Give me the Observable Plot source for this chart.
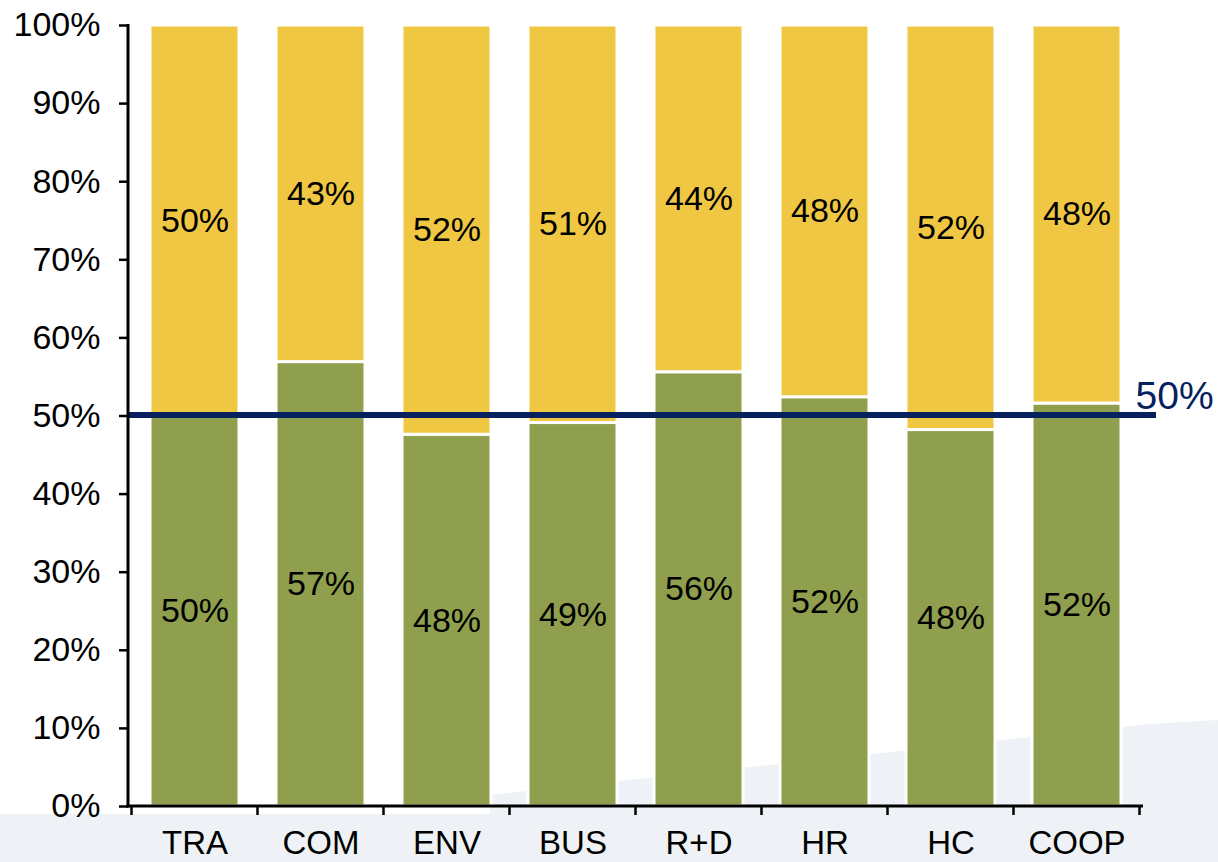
<!DOCTYPE html>
<html><head><meta charset="utf-8">
<script src="https://cdn.jsdelivr.net/npm/d3@7"></script>
<script src="https://cdn.jsdelivr.net/npm/@observablehq/plot@0.6"></script>
<style>
html,body{margin:0;padding:0;background:#fff;}
#wrap{position:relative;width:1218px;height:862px;overflow:hidden;}
#bg{position:absolute;left:0;top:0;width:1218px;height:862px;background:#eef2f6;
  clip-path:polygon(0 814px,490px 814px,490px 795px,1150px 724px,1218px 720px,1218px 862px,0 862px);}
#chart{position:absolute;left:0;top:0;}
</style>
</head><body>
<div id="wrap"><div id="bg"></div><div id="chart"></div></div>
<script>
const categories = ["TRA","COM","ENV","BUS","R+D","HR","HC","COOP"];
const seriesNames = ["lower","upper"];
const lowerShare = [50, 56.9, 47.6, 49.1, 55.6, 52.4, 48.2, 51.6];
const upperShare = [50, 43.1, 52.4, 50.9, 44.4, 47.6, 51.8, 48.4];
const yTicks = [0,10,20,30,40,50,60,70,80,90,100];
const referenceValue = [50];

const GREEN = "#8f9f4d", YELLOW = "#f0c742", NAVY = "#06215e";

const rows = [];
categories.forEach((c,i)=>rows.push({cat:c, series:seriesNames[0], value:lowerShare[i]}));
categories.forEach((c,i)=>rows.push({cat:c, series:seriesNames[1], value:upperShare[i]}));

const FONT = "'Liberation Sans', Arial, sans-serif";

const chart = Plot.plot({
  width:1218, height:862,
  marginLeft:128, marginRight:75, marginTop:25, marginBottom:56,
  style:{fontFamily:FONT, fontSize:"34px", color:"#000", background:"transparent", overflow:"visible"},
  x:{domain:categories, paddingInner:0.29, paddingOuter:0.145, label:null},
  y:{domain:[0,100], label:null},
  color:{type:"ordinal", domain:seriesNames, range:[GREEN, YELLOW]},
  marks:[
    Plot.barY(rows, {x:"cat", y:"value", fill:"series", stroke:"white", strokeWidth:3}),
    Plot.text(rows, Plot.stackY({x:"cat", y:"value", z:"series", text:d=>Math.round(d.value)+"%", fill:"black", fontSize:34})),
    Plot.ruleY(referenceValue, {y:d=>d, stroke:NAVY, strokeWidth:6, insetRight:-13, dy:-1}),
    Plot.text(referenceValue, {y:d=>d, frameAnchor:"right", textAnchor:"start", dx:-8, dy:-19, text:d=>d+"%", fill:NAVY, fontSize:39}),
    Plot.axisY({ticks:yTicks, tickFormat:d=>d+"%", tickSize:9, tickPadding:19, strokeWidth:2.5, fontSize:34}),
    Plot.axisX({tickSize:0, tickPadding:24, fontSize:33})
  ]
});
document.getElementById("chart").appendChild(chart);

// axis lines and boundary ticks from the plot's own scales
const xs = chart.scale("x"), ys = chart.scale("y");
const svg = d3.select(chart);
const step = xs.apply(categories[1]) - xs.apply(categories[0]);
const bw = xs.bandwidth;
const gap = (step - bw)/2;
const bounds = categories.map(c => xs.apply(c) - gap).concat([xs.apply(categories[categories.length-1]) + bw + gap]);
const y0 = ys.apply(0), y100 = ys.apply(100);
const xl = xs.range[0], xr = xs.range[1];
const g = svg.append("g").attr("stroke","#000").attr("fill","none");
g.append("line").attr("x1",xl).attr("x2",xl).attr("y1",y100-1).attr("y2",y0+1.5).attr("stroke-width",3);
g.append("line").attr("x1",xl-1.5).attr("x2",xr).attr("y1",y0).attr("y2",y0).attr("stroke-width",3);
bounds.forEach(b => g.append("line").attr("x1",b).attr("x2",b).attr("y1",y0).attr("y2",y0+9).attr("stroke-width",2.5));
</script>
</body></html>
